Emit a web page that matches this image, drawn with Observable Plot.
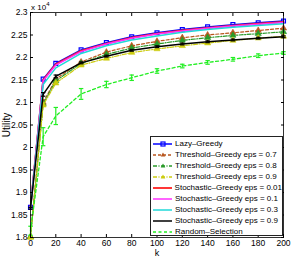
<!DOCTYPE html>
<html><head><meta charset="utf-8">
<script src="https://cdn.jsdelivr.net/npm/d3@7"></script>
<script src="https://cdn.jsdelivr.net/npm/@observablehq/plot@0.6"></script>
<style>
body{margin:0;background:#fff;}
#wrap{position:relative;width:291px;height:257px;font-family:"Liberation Sans",Arial,sans-serif;color:#000;}
#exp{position:absolute;left:31px;top:1px;font-size:8px;}
#exp sup{font-size:6px;}
#legend{position:absolute;left:150px;top:136px;width:133px;height:100px;border:1px solid #222;background:#fff;box-sizing:border-box;padding-top:1px;}
.row{display:flex;align-items:center;height:11px;font-size:8px;white-space:nowrap;}
.row svg{margin-left:2px;margin-right:3px;}
</style></head><body><div id="wrap"></div>
<script>
const kValues = [0,10,20,40,60,80,100,120,140,160,180,200];
const lazyGreedy   = [1.867,2.152,2.187,2.217,2.233,2.246,2.255,2.262,2.268,2.273,2.277,2.281];
const threshold07  = [1.802,2.100,2.152,2.190,2.212,2.226,2.236,2.244,2.250,2.255,2.260,2.265];
const threshold08  = [1.801,2.097,2.148,2.187,2.207,2.221,2.230,2.238,2.244,2.249,2.253,2.257];
const threshold09  = [1.800,2.094,2.143,2.183,2.198,2.211,2.219,2.226,2.232,2.238,2.243,2.247];
const stoch001     = [1.867,2.150,2.185,2.215,2.231,2.244,2.253,2.260,2.266,2.271,2.275,2.279];
const stoch01      = [1.867,2.148,2.183,2.213,2.230,2.243,2.252,2.259,2.265,2.270,2.274,2.278];
const stoch03      = [1.866,2.140,2.177,2.209,2.226,2.239,2.248,2.256,2.262,2.267,2.271,2.275];
const stoch09      = [1.865,2.118,2.158,2.188,2.203,2.216,2.224,2.230,2.235,2.239,2.243,2.246];
const stoch09Err   = [0.002,0.004,0.003,0.002,0.002,0.002,0.002,0.002,0.002,0.002,0.002,0.002];
const randomSel    = [1.815,2.024,2.070,2.119,2.140,2.155,2.170,2.181,2.189,2.196,2.204,2.210];
const randomErr    = [0.010,0.020,0.019,0.012,0.007,0.006,0.005,0.004,0.004,0.004,0.004,0.003];
const seriesNames = ["Lazy\u2013Greedy","Threshold\u2013Greedy eps = 0.7","Threshold\u2013Greedy eps = 0.8","Threshold\u2013Greedy eps = 0.9","Stochastic\u2013Greedy eps = 0.01","Stochastic\u2013Greedy eps = 0.1","Stochastic\u2013Greedy eps = 0.3","Stochastic\u2013Greedy eps = 0.9","Random\u2013Selection"];
const xTicks = [0,20,40,60,80,100,120,140,160,180,200];
const yTicks = [1.8,1.85,1.9,1.95,2,2.05,2.1,2.15,2.2,2.25,2.3];

const seriesValues = [lazyGreedy,threshold07,threshold08,threshold09,stoch001,stoch01,stoch03,stoch09,randomSel];
const errors = {7: stoch09Err, 8: randomErr};
const styles = [
  {stroke:"#0000ff", width:1.5, dash:null, symbol:"square", fill:"none"},
  {stroke:"#b8561e", width:1.2, dash:"3,2", symbol:"triangle", fill:"#b8561e"},
  {stroke:"#2a9a2a", width:1.2, dash:"4,1.5,1,1.5", symbol:"triangle", fill:"#2a9a2a"},
  {stroke:"#cccc10", width:1.2, dash:"4,1.5,1,1.5", symbol:"triangle", fill:"#cccc10"},
  {stroke:"#ff2020", width:1.8, dash:null},
  {stroke:"#ff30ff", width:1.5, dash:null},
  {stroke:"#20d8d8", width:1.5, dash:null},
  {stroke:"#000000", width:1.5, dash:null},
  {stroke:"#22ee22", width:1.3, dash:"3,2.5"}
];

const capSymbol = {draw(ctx, size){ const w = Math.sqrt(size)/2; ctx.moveTo(-w,0); ctx.lineTo(w,0); }};

const marks = [];
seriesValues.forEach((vals, i) => {
  const st = styles[i];
  const rows = kValues.map((k, j) => ({k, v: vals[j], e: errors[i] ? errors[i][j] : 0}));
  marks.push(Plot.line(rows, {x:"k", y:"v", stroke: st.stroke, strokeWidth: st.width, strokeDasharray: st.dash || undefined}));
  if (errors[i]) {
    marks.push(Plot.ruleX(rows, {x:"k", y1: d => d.v - d.e, y2: d => d.v + d.e, stroke: st.stroke, strokeWidth: 1.2}));
    marks.push(Plot.dot(rows, {x:"k", y: d => d.v - d.e, symbol: capSymbol, r: 2.5, stroke: st.stroke, strokeWidth: 1.2}));
    marks.push(Plot.dot(rows, {x:"k", y: d => d.v + d.e, symbol: capSymbol, r: 2.5, stroke: st.stroke, strokeWidth: 1.2}));
  }
  if (st.symbol) {
    marks.push(Plot.dot(rows, {x:"k", y:"v", symbol: st.symbol, r: st.symbol === "square" ? 2.2 : 2.3, stroke: st.stroke, fill: st.fill, strokeWidth: st.symbol === "square" ? 1.2 : 0.6}));
  }
});

const fmt = d => String(+d.toFixed(2));
const chart = Plot.plot({
  width: 291, height: 257,
  marginLeft: 30, marginRight: 8, marginTop: 12, marginBottom: 20,
  style: {fontFamily: "'Liberation Sans', Arial, sans-serif", fontSize: "8.5px", background: "white", color: "black"},
  x: {domain: [0, 200]},
  y: {domain: [1.8, 2.3]},
  marks: [
    ...marks,
    Plot.frame({stroke: "black", strokeWidth: 0.8}),
    Plot.axisX({ticks: xTicks, tickSize: 0, tickPadding: 2.5, tickFormat: fmt, label: null}),
    Plot.axisX({ticks: [], tickSize: 0, label: "k", labelAnchor: "center", labelOffset: 18, labelArrow: "none", fontSize: 9}),
    Plot.axisX({ticks: xTicks, tickSize: -3, tickFormat: () => "", label: null}),
    Plot.axisX({ticks: xTicks, anchor: "top", tickSize: -3, tickFormat: () => "", label: null}),
    Plot.axisY({ticks: yTicks, tickSize: 0, tickPadding: 3, tickFormat: fmt, label: null}),
    Plot.axisY({ticks: [], tickSize: 0, label: "Utility", labelAnchor: "center", labelOffset: 28, labelArrow: "none", fontSize: 10}),
    Plot.axisY({ticks: yTicks, tickSize: -3, tickFormat: () => "", label: null}),
    Plot.axisY({ticks: yTicks, anchor: "right", tickSize: -3, tickFormat: () => "", label: null})
  ]
});
const wrap = document.getElementById("wrap");
wrap.appendChild(chart);

const exp = document.createElement("div");
exp.id = "exp";
exp.innerHTML = "x 10<sup>4</sup>";
wrap.appendChild(exp);

const legend = document.createElement("div");
legend.id = "legend";
seriesNames.forEach((name, i) => {
  const st = styles[i];
  const row = document.createElement("div");
  row.className = "row";
  let sym = "";
  if (st.symbol === "square") sym = `<rect x="8" y="3" width="4" height="4" fill="none" stroke="${st.stroke}" stroke-width="1.2"/>`;
  if (st.symbol === "triangle") sym = `<path d="M10,2.6L12.3,6.6L7.7,6.6Z" fill="${st.fill}"/>`;
  row.innerHTML = `<svg width="19" height="10"><line x1="0" x2="19" y1="5" y2="5" stroke="${st.stroke}" stroke-width="${Math.max(st.width,1.5)}" ${st.dash ? `stroke-dasharray="${st.dash}"` : ""}/>${sym}</svg><span>${name}</span>`;
  legend.appendChild(row);
});
wrap.appendChild(legend);
</script>
</body></html>
